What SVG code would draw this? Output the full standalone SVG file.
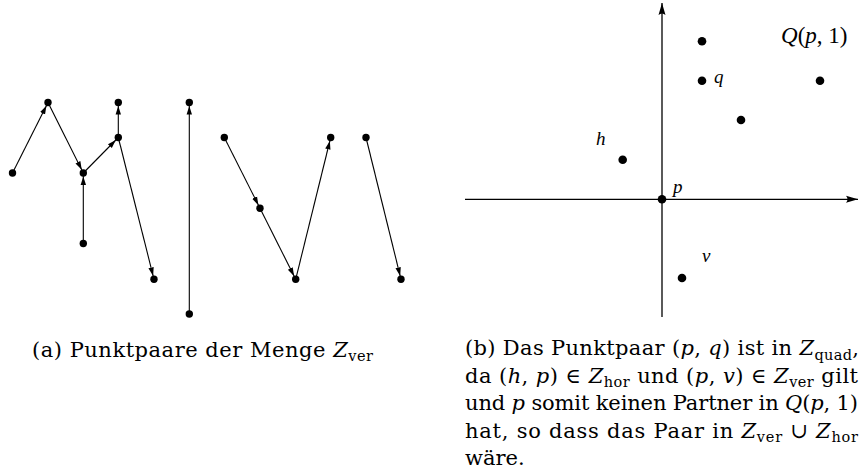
<svg xmlns="http://www.w3.org/2000/svg" width="862" height="476" viewBox="0 0 862 476">
<style>
.dot{fill:#000}
.edge{stroke:#000;stroke-width:1.1;fill:none;marker-end:url(#ah)}
.axis{stroke:#000;stroke-width:1.3;fill:none;marker-end:url(#axh)}
.cap{font-family:"DejaVu Serif","Liberation Serif",serif;font-size:21px;fill:#000}
.m{font-style:italic}
.sub{font-size:14.5px}
.lbl{font-family:"Liberation Serif","DejaVu Serif",serif;font-size:19px;font-style:italic;fill:#000}
</style>
<defs>
<marker id="ah" markerUnits="userSpaceOnUse" markerWidth="20" markerHeight="10" viewBox="0 0 20 10" refX="12" refY="5" orient="auto">
<path d="M0,2.3 L8.5,5 L0,7.7 z" fill="#000"/>
</marker>
<marker id="axh" markerUnits="userSpaceOnUse" markerWidth="14" markerHeight="10" viewBox="0 0 14 10" refX="12" refY="5" orient="auto">
<path d="M0,1.5 L12,5 L0,8.5 Q3,5 0,1.5 z" fill="#000"/>
</marker>
</defs>

<g id="connectors">
<line class="edge" x1="12.5" y1="173" x2="48" y2="102.5"/>
<line class="edge" x1="48" y1="102.5" x2="83.3" y2="173"/>
<line class="edge" x1="83.3" y1="243.5" x2="83.3" y2="173"/>
<line class="edge" x1="83.3" y1="173" x2="118.3" y2="137.5"/>
<line class="edge" x1="118.3" y1="137.5" x2="118.3" y2="102.5"/>
<line class="edge" x1="118.3" y1="137.5" x2="154" y2="279.3"/>
<line class="edge" x1="189.3" y1="314" x2="189.3" y2="102.5"/>
<line class="edge" x1="224.3" y1="137.5" x2="260" y2="208.3"/>
<line class="edge" x1="260" y1="208.3" x2="295.7" y2="279.3"/>
<line class="edge" x1="295.7" y1="279.3" x2="330.7" y2="137.5"/>
<line class="edge" x1="366" y1="137.5" x2="401" y2="279.3"/>
</g>

<g id="a1"><circle class="dot" cx="12.5" cy="173" r="3.7"/></g>
<g id="a2"><circle class="dot" cx="48" cy="102.5" r="3.7"/></g>
<g id="a3"><circle class="dot" cx="83.3" cy="173" r="3.7"/></g>
<g id="a4"><circle class="dot" cx="83.3" cy="243.5" r="3.7"/></g>
<g id="a5"><circle class="dot" cx="118.3" cy="137.5" r="3.7"/></g>
<g id="a6"><circle class="dot" cx="118.3" cy="102.5" r="3.7"/></g>
<g id="a7"><circle class="dot" cx="154" cy="279.3" r="3.7"/></g>
<g id="a8"><circle class="dot" cx="189.3" cy="102.5" r="3.7"/></g>
<g id="a9"><circle class="dot" cx="189.3" cy="314" r="3.7"/></g>
<g id="a10"><circle class="dot" cx="224.3" cy="137.5" r="3.7"/></g>
<g id="a11"><circle class="dot" cx="260" cy="208.3" r="3.7"/></g>
<g id="a12"><circle class="dot" cx="295.7" cy="279.3" r="3.7"/></g>
<g id="a13"><circle class="dot" cx="330.7" cy="137.5" r="3.7"/></g>
<g id="a14"><circle class="dot" cx="366" cy="137.5" r="3.7"/></g>
<g id="a15"><circle class="dot" cx="401" cy="279.3" r="3.7"/></g>

<g id="axes">
<line class="axis" x1="662" y1="317" x2="662" y2="3"/>
<line class="axis" x1="465" y1="199.3" x2="858" y2="199.3"/>
</g>

<g id="p"><circle class="dot" cx="662" cy="199.3" r="4.3"/><text class="lbl" x="673" y="193">p</text></g>
<g id="q"><circle class="dot" cx="702" cy="80.7" r="4.3"/><text class="lbl" x="714" y="83">q</text></g>
<g id="r1"><circle class="dot" cx="702" cy="41.3" r="4.3"/></g>
<g id="r2"><circle class="dot" cx="820" cy="80.7" r="4.3"/></g>
<g id="r3"><circle class="dot" cx="741" cy="120" r="4.3"/></g>
<g id="h"><circle class="dot" cx="622.7" cy="159.7" r="4.3"/><text class="lbl" x="596" y="145">h</text></g>
<g id="v"><circle class="dot" cx="682" cy="278" r="4.3"/><text class="lbl" x="702" y="262">v</text></g>
<g id="Q"><text font-family="Liberation Serif, DejaVu Serif, serif" font-size="23" x="781" y="43" fill="#000"><tspan font-style="italic">Q</tspan>(<tspan font-style="italic">p</tspan>, 1)</text></g>

<g id="caption-a">
<text class="cap" x="32" y="356.5" textLength="341" lengthAdjust="spacing">(a) Punktpaare der Menge <tspan class="m">Z</tspan><tspan class="sub" dy="4.5">ver</tspan></text>
</g>

<g id="caption-b">
<text class="cap" x="465" y="355" textLength="394" lengthAdjust="spacing">(b) Das Punktpaar (<tspan class="m">p</tspan>, <tspan class="m">q</tspan>) ist in <tspan class="m">Z</tspan><tspan class="sub" dy="4.5">quad</tspan><tspan dy="-4.5">,</tspan></text>
<text class="cap" x="465" y="382.5" textLength="393" lengthAdjust="spacing">da (<tspan class="m">h</tspan>, <tspan class="m">p</tspan>) ∈ <tspan class="m">Z</tspan><tspan class="sub" dy="4.5">hor</tspan><tspan dy="-4.5"> und (</tspan><tspan class="m">p</tspan>, <tspan class="m">v</tspan>) ∈ <tspan class="m">Z</tspan><tspan class="sub" dy="4.5">ver</tspan><tspan dy="-4.5"> gilt</tspan></text>
<text class="cap" x="465" y="410" textLength="393" lengthAdjust="spacing">und <tspan class="m">p</tspan> somit keinen Partner in <tspan class="m">Q</tspan>(<tspan class="m">p</tspan>, 1)</text>
<text class="cap" x="465" y="437.5" textLength="393" lengthAdjust="spacing">hat, so dass das Paar in <tspan class="m">Z</tspan><tspan class="sub" dy="4.5">ver</tspan><tspan dy="-4.5"> ∪ </tspan><tspan class="m">Z</tspan><tspan class="sub" dy="4.5">hor</tspan></text>
<text class="cap" x="465" y="465">wäre.</text>
</g>
</svg>
